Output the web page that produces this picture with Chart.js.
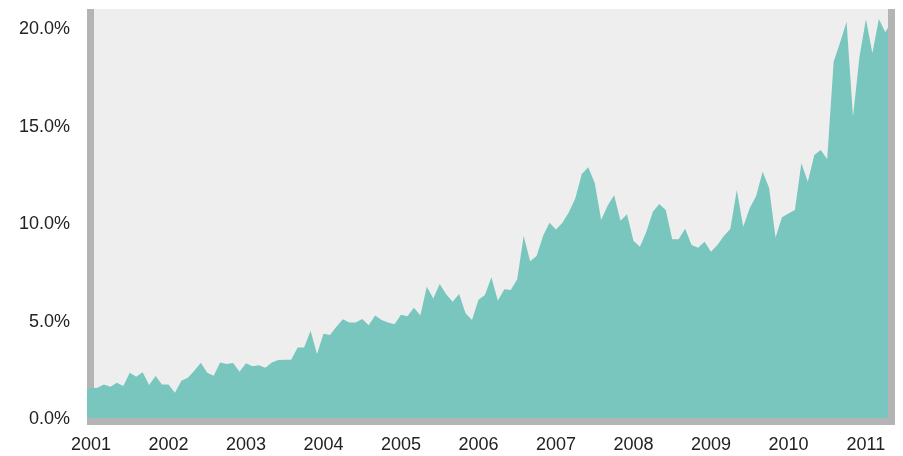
<!DOCTYPE html>
<html>
<head>
<meta charset="utf-8">
<script src="https://cdn.jsdelivr.net/npm/chart.js@4.4.1/dist/chart.umd.min.js"></script>
<style>
  html, body { margin: 0; padding: 0; background: #ffffff; }
  #wrap { width: 903px; height: 456px; }
</style>
</head>
<body>
<div id="wrap"><canvas id="shareChart" width="903" height="456"></canvas></div>
<script>
// Monthly share, first value is Dec 2000 (month -1), then Jan 2001 onward
const firstMonth = -1;
const shareValues = [
    1.59, 1.59, 1.62, 1.79, 1.67, 1.88, 1.71, 2.39, 2.19, 2.41, 1.76, 2.22, 1.79,
    1.79, 1.36, 1.98, 2.13, 2.49, 2.90, 2.39, 2.24, 2.92, 2.84, 2.89, 2.44,
    2.87, 2.72, 2.77, 2.65, 2.92, 3.04, 3.06, 3.05, 3.69, 3.69, 4.54, 3.35,
    4.39, 4.32, 4.75, 5.13, 4.97, 4.97, 5.14, 4.82, 5.33, 5.09, 4.97, 4.87,
    5.36, 5.28, 5.72, 5.33, 6.80, 6.20, 6.94, 6.41, 6.03, 6.43, 5.44, 5.09,
    6.13, 6.37, 7.28, 6.08, 6.67, 6.63, 7.18, 9.40, 8.10, 8.37, 9.40, 10.08,
    9.74, 10.08, 10.62, 11.33, 12.58, 12.92, 12.13, 10.22, 10.95, 11.49, 10.18, 10.51,
    9.16, 8.85, 9.62, 10.65, 11.04, 10.73, 9.23, 9.23, 9.77, 8.94, 8.80, 9.11,
    8.59, 8.94, 9.40, 9.76, 11.76, 9.88, 10.82, 11.45, 12.70, 11.88, 9.33, 10.36,
    10.56, 10.73, 13.13, 12.18, 13.55, 13.81, 13.33, 18.34, 19.32, 20.39, 15.52, 18.59,
    20.51, 18.77, 20.53, 19.85, 20.40
];
const yearLabels = ['2001', '2002', '2003', '2004', '2005', '2006', '2007', '2008', '2009', '2010', '2011'];
const yTickValues = [0, 5, 10, 15, 20];

const points = shareValues.map((v, i) => ({ x: firstMonth + i, y: v }));

// gray frame pieces around the plot
const framePlugin = {
    id: 'frame',
    beforeDraw(chart) {
        const { ctx, chartArea: a } = chart;
        ctx.save();
        ctx.fillStyle = '#eeeeee';
        ctx.fillRect(a.left, a.top, a.right - a.left, a.bottom - a.top);
        ctx.fillStyle = '#b4b4b4';
        ctx.fillRect(a.left, a.top, 7, a.bottom - a.top);
        ctx.restore();
    },
    afterDatasetsDraw(chart) {
        const { ctx, chartArea: a } = chart;
        ctx.save();
        ctx.fillStyle = '#b4b4b4';
        ctx.fillRect(a.left, a.bottom - 7, a.right - a.left, 7);
        ctx.fillRect(a.right - 7, a.top, 7, a.bottom - a.top);
        ctx.restore();
    }
};

const ctx = document.getElementById('shareChart');
new Chart(ctx, {
    type: 'line',
    data: {
        datasets: [{
            data: points,
            fill: 'origin',
            backgroundColor: '#78c6bd',
            borderWidth: 0,
            pointRadius: 0,
            tension: 0
        }]
    },
    options: {
        responsive: false,
        animation: false,
        layout: { padding: { top: 9, right: 8, left: 0, bottom: 0 } },
        plugins: {
            legend: { display: false },
            tooltip: { enabled: false }
        },
        scales: {
            x: {
                type: 'linear',
                min: -0.62,
                max: 124.5,
                grid: { display: false, drawTicks: false },
                border: { display: false },
                afterBuildTicks: (scale) => {
                    scale.ticks = yearLabels.map((y, i) => ({ value: i * 12 }));
                },
                afterFit: (scale) => {
                    scale.height = 31;
                    scale.paddingLeft = 0;
                    scale.paddingRight = 0;
                },
                ticks: {
                    color: '#222222',
                    padding: 9,
                    maxRotation: 0,
                    autoSkip: false,
                    font: { family: 'Liberation Sans, Arial, sans-serif', size: 18 },
                    callback: (value, index) => yearLabels[index]
                }
            },
            y: {
                min: -0.29,
                max: 21.04,
                grid: { display: false, drawTicks: false },
                border: { display: false },
                afterBuildTicks: (scale) => {
                    scale.ticks = yTickValues.map(v => ({ value: v }));
                },
                afterFit: (scale) => {
                    scale.width = 87;
                    scale.paddingTop = 0;
                    scale.paddingBottom = 0;
                },
                ticks: {
                    color: '#222222',
                    padding: 17,
                    font: { family: 'Liberation Sans, Arial, sans-serif', size: 18 },
                    callback: (value) => value.toFixed(1) + '%'
                }
            }
        }
    },
    plugins: [framePlugin]
});
</script>
</body>
</html>
